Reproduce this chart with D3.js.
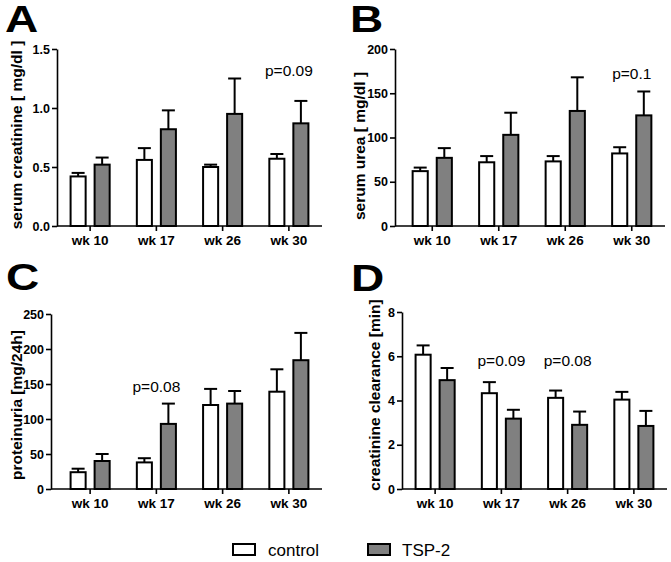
<!DOCTYPE html>
<html>
<head>
<meta charset="utf-8">
<script src="https://cdn.jsdelivr.net/npm/d3@7"></script>
<style>
  body { margin: 0; background: #fff; }
  svg { font-family: 'Liberation Sans', Arial, sans-serif; }
</style>
</head>
<body>
<div id="chart"></div>
<script>
const weeks = ['wk 10', 'wk 17', 'wk 26', 'wk 30'];
const groups = ['control', 'TSP-2'];
const groupFill = ['#ffffff', '#808080'];

// means and upper SEM
const creatControl = [0.42, 0.56, 0.50, 0.57];
const creatControlErr = [0.03, 0.10, 0.02, 0.04];
const creatTsp = [0.52, 0.82, 0.95, 0.87];
const creatTspErr = [0.06, 0.16, 0.30, 0.19];

const ureaControl = [62, 72, 73, 82];
const ureaControlErr = [4, 7, 6, 7];
const ureaTsp = [77, 103, 130, 125];
const ureaTspErr = [11, 25, 38, 27];

const protControl = [24, 38, 120, 139];
const protControlErr = [5, 6, 23, 32];
const protTsp = [40, 93, 122, 184];
const protTspErr = [10, 29, 18, 39];

const clearControl = [6.07, 4.33, 4.12, 4.04];
const clearControlErr = [0.42, 0.50, 0.33, 0.35];
const clearTsp = [4.92, 3.18, 2.90, 2.85];
const clearTspErr = [0.55, 0.40, 0.60, 0.68];

const creatTicks = [0, 0.5, 1.0, 1.5];
const ureaTicks = [0, 50, 100, 150, 200];
const protTicks = [0, 50, 100, 150, 200, 250];
const clearTicks = [0, 2, 4, 6, 8];

// p-value notes: [week, y value, text]
const creatNotes = [['wk 30', 1.27, 'p=0.09']];
const ureaNotes = [['wk 30', 166, 'p=0.1']];
const protNotes = [['wk 17', 138, 'p=0.08']];
const clearNotes = [['wk 17', 5.56, 'p=0.09'], ['wk 26', 5.56, 'p=0.08']];

const panels = [
  { letter: 'A', label: 'serum creatinine [ mg/dl ]', ticks: creatTicks, fmt: '.1f',
    control: creatControl, controlErr: creatControlErr, tsp: creatTsp, tspErr: creatTspErr, notes: creatNotes,
    axisX: 57, xRange: [57, 322], yRange: [226, 49], letterPos: [5, 32], labelPos: [22, 135] },
  { letter: 'B', label: 'serum urea [ mg/dl ]', ticks: ureaTicks, fmt: 'd',
    control: ureaControl, controlErr: ureaControlErr, tsp: ureaTsp, tspErr: ureaTspErr, notes: ureaNotes,
    axisX: 395, xRange: [399, 665], yRange: [226, 49], letterPos: [350, 32], labelPos: [365, 146] },
  { letter: 'C', label: 'proteinuria [mg/24h]', ticks: protTicks, fmt: 'd',
    control: protControl, controlErr: protControlErr, tsp: protTsp, tspErr: protTspErr, notes: protNotes,
    axisX: 51, xRange: [57, 322], yRange: [489, 314], letterPos: [6, 290], labelPos: [22, 405] },
  { letter: 'D', label: 'creatinine clearance [min]', ticks: clearTicks, fmt: 'd',
    control: clearControl, controlErr: clearControlErr, tsp: clearTsp, tspErr: clearTspErr, notes: clearNotes,
    axisX: 402, xRange: [402, 667], yRange: [489, 312], letterPos: [351, 291], labelPos: [380, 395] }
];

const svg = d3.select('#chart').append('svg')
  .attr('width', 671)
  .attr('height', 562);

panels.forEach(p => {
  const g = svg.append('g');

  const x0 = d3.scaleBand().domain(weeks).range(p.xRange)
    .paddingInner(0.38).paddingOuter(0.19);
  const x1 = d3.scaleBand().domain(groups).range([0, x0.bandwidth()])
    .paddingInner(0.29);
  const y = d3.scaleLinear().domain([0, d3.max(p.ticks)]).range(p.yRange);

  const rows = [];
  weeks.forEach((w, i) => {
    rows.push({ week: w, group: groups[0], v: p.control[i], e: p.controlErr[i] });
    rows.push({ week: w, group: groups[1], v: p.tsp[i], e: p.tspErr[i] });
  });
  const cx = d => x0(d.week) + x1(d.group) + x1.bandwidth() / 2;

  // error bars (upper only)
  const err = g.selectAll('.err').data(rows).enter().append('g');
  err.append('line')
    .attr('x1', cx).attr('x2', cx)
    .attr('y1', d => y(d.v))
    .attr('y2', d => y(d.v + d.e))
    .attr('stroke', '#000').attr('stroke-width', 2);
  err.append('line')
    .attr('x1', d => cx(d) - 6.5)
    .attr('x2', d => cx(d) + 6.5)
    .attr('y1', d => y(d.v + d.e))
    .attr('y2', d => y(d.v + d.e))
    .attr('stroke', '#000').attr('stroke-width', 2);

  g.selectAll('.bar').data(rows).enter().append('rect')
    .attr('x', d => x0(d.week) + x1(d.group) + 1)
    .attr('width', x1.bandwidth() - 2)
    .attr('y', d => y(d.v))
    .attr('height', d => y(0) - y(d.v))
    .attr('fill', d => groupFill[groups.indexOf(d.group)])
    .attr('stroke', '#000')
    .attr('stroke-width', 2);

  // y axis
  const yAxis = g.append('g')
    .attr('transform', `translate(${p.axisX},0)`)
    .call(d3.axisLeft(y).tickValues(p.ticks).tickFormat(d3.format(p.fmt))
      .tickSize(5).tickSizeOuter(0).tickPadding(2));
  yAxis.selectAll('text').attr('font-size', 12.5).attr('font-weight', 'bold')
    .attr('fill', '#000').attr('font-family', null);
  yAxis.selectAll('line,path').attr('stroke-width', 1.6);

  // x axis
  const xAxis = g.append('g')
    .attr('transform', `translate(0,${p.yRange[0]})`)
    .call(d3.axisBottom(x0).tickSize(5).tickSizeOuter(0).tickPadding(4));
  xAxis.select('.domain').remove();
  xAxis.append('line')
    .attr('x1', p.axisX).attr('x2', p.xRange[1])
    .attr('stroke', '#000').attr('stroke-width', 1.6);
  xAxis.selectAll('text').attr('font-size', 13.5).attr('font-weight', 'bold')
    .attr('fill', '#000').attr('font-family', null);
  xAxis.selectAll('line').attr('stroke-width', 1.6);

  g.append('text')
    .attr('transform', `translate(${p.labelPos[0]},${p.labelPos[1]}) rotate(-90)`)
    .attr('text-anchor', 'middle')
    .attr('font-size', 15.5)
    .attr('font-weight', 'bold')
    .text(p.label);

  // panel letters are drawn wide in the original figure
  g.append('text')
    .attr('transform', `translate(${p.letterPos[0]},${p.letterPos[1]}) scale(1.28,1)`)
    .attr('font-size', 36)
    .attr('font-weight', 'bold')
    .text(p.letter);

  g.selectAll('.note').data(p.notes).enter().append('text')
    .attr('x', d => x0(d[0]) + x0.bandwidth() / 2)
    .attr('y', d => y(d[1]))
    .attr('text-anchor', 'middle')
    .attr('font-size', 15.5)
    .text(d => d[2]);
});

// legend
const legendX = [232, 367];
const legend = svg.selectAll('.legend').data(groups).enter().append('g')
  .attr('transform', (d, i) => `translate(${legendX[i]},543)`);
legend.append('rect')
  .attr('x', 1).attr('y', 1).attr('width', 22).attr('height', 11)
  .attr('fill', (d, i) => groupFill[i])
  .attr('stroke', '#000').attr('stroke-width', 2);
legend.append('text')
  .attr('x', (d, i) => i === 0 ? 36 : 35).attr('y', 12.5)
  .attr('font-size', 17)
  .text(d => d);
</script>
</body>
</html>
